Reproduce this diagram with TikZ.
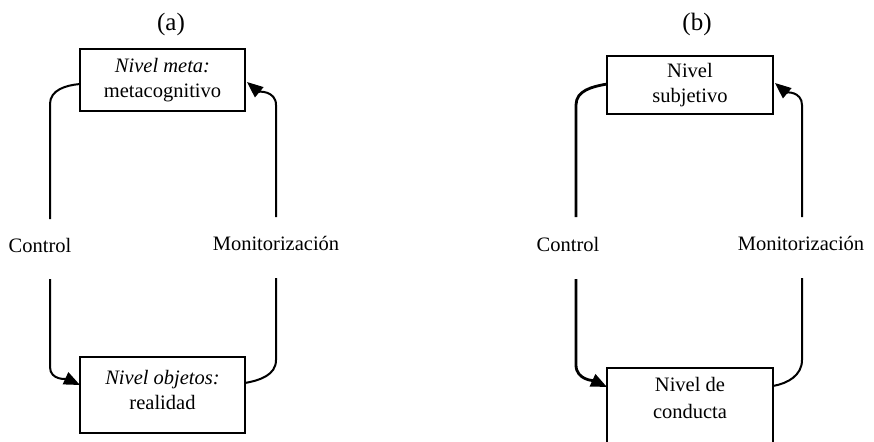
\documentclass[tikz,border=0pt]{standalone}
\usepackage{fontspec}
\setmainfont{Liberation Serif}
\usetikzlibrary{arrows.meta}
\begin{document}
\begin{tikzpicture}[x=0.5pt,y=0.5pt,
  every node/.style={font=\fontsize{10.25}{12.5}\selectfont, inner sep=0pt},
  title/.style={font=\fontsize{12.5}{14}\selectfont},
  box/.style={draw, line width=1pt, rectangle},
  conn/.style={line width=1pt},
  arr/.style={conn, -{Triangle[length=8pt,width=6.5pt]}},
  txt/.style={align=center}]
\clip (0,0) rectangle (874,441);
\fill[white] (0,0) rectangle (874,441);
% titles
\node[title] (ta) at (171,417) {(a)};
\node[title] (tb) at (697,417) {(b)};
% ---------- (a) ----------
\node[box, minimum width=82.5pt, minimum height=31pt, txt] (metaA) at (162.5,361) {\textit{Nivel meta:}\\metacognitivo};
\node[box, minimum width=82.5pt, minimum height=38pt] (objA) at (162.5,46) {};
\node[txt] (objAt) at (162.5,51) {\textit{Nivel objetos:}\\realidad};
\node (ctrlA) at (40,196) {Control};
\node (monA) at (276,198) {Monitorización};
\coordinate (a1) at (80,357);
\coordinate (a2) at (50,222);
\coordinate (a3) at (50,162);
\coordinate (a4) at (80,56);
\coordinate (a5) at (245,58);
\coordinate (a6) at (276,163);
\coordinate (a7) at (276,224);
\coordinate (a8) at (247,359);
\draw[conn] (a1) to[out=185,in=90] (50,337) -- (a2);
\draw[arr] (a3) -- (50,74) to[out=-90,in=155] (a4);
\draw[conn] (a5) to[out=10,in=-90] (276,81) -- (a6);
\draw[arr] (a7) -- (276,336) to[out=90,in=-40] (a8);
% ---------- (b) ----------
\node[box, minimum width=83pt, minimum height=29pt, txt] (subjB) at (690,356) {Nivel\\subjetivo};
\node[box, minimum width=83pt, minimum height=46.5pt] (condB) at (690,26.5) {};
\node[txt, font=\fontsize{10.25}{13.5}\selectfont] (condBt) at (690,43) {Nivel de\\conducta};
\node (ctrlB) at (568,197) {Control};
\node (monB) at (801,198) {Monitorización};
\coordinate (b1) at (607,357);
\coordinate (b2) at (576,224);
\coordinate (b3) at (576,162);
\coordinate (b4) at (607,54);
\coordinate (b5) at (773,55);
\coordinate (b6) at (802,163);
\coordinate (b7) at (802,224);
\coordinate (b8) at (775,358);
\draw[conn, line width=1.4pt] (b1) to[out=190,in=90] (576,336) -- (b2);
\draw[arr, line width=1.4pt] (b3) -- (576,76) to[out=-90,in=155] (b4);
\draw[conn] (b5) to[out=10,in=-90] (802,81) -- (b6);
\draw[arr] (b7) -- (802,336) to[out=90,in=-40] (b8);
\end{tikzpicture}
\end{document}
